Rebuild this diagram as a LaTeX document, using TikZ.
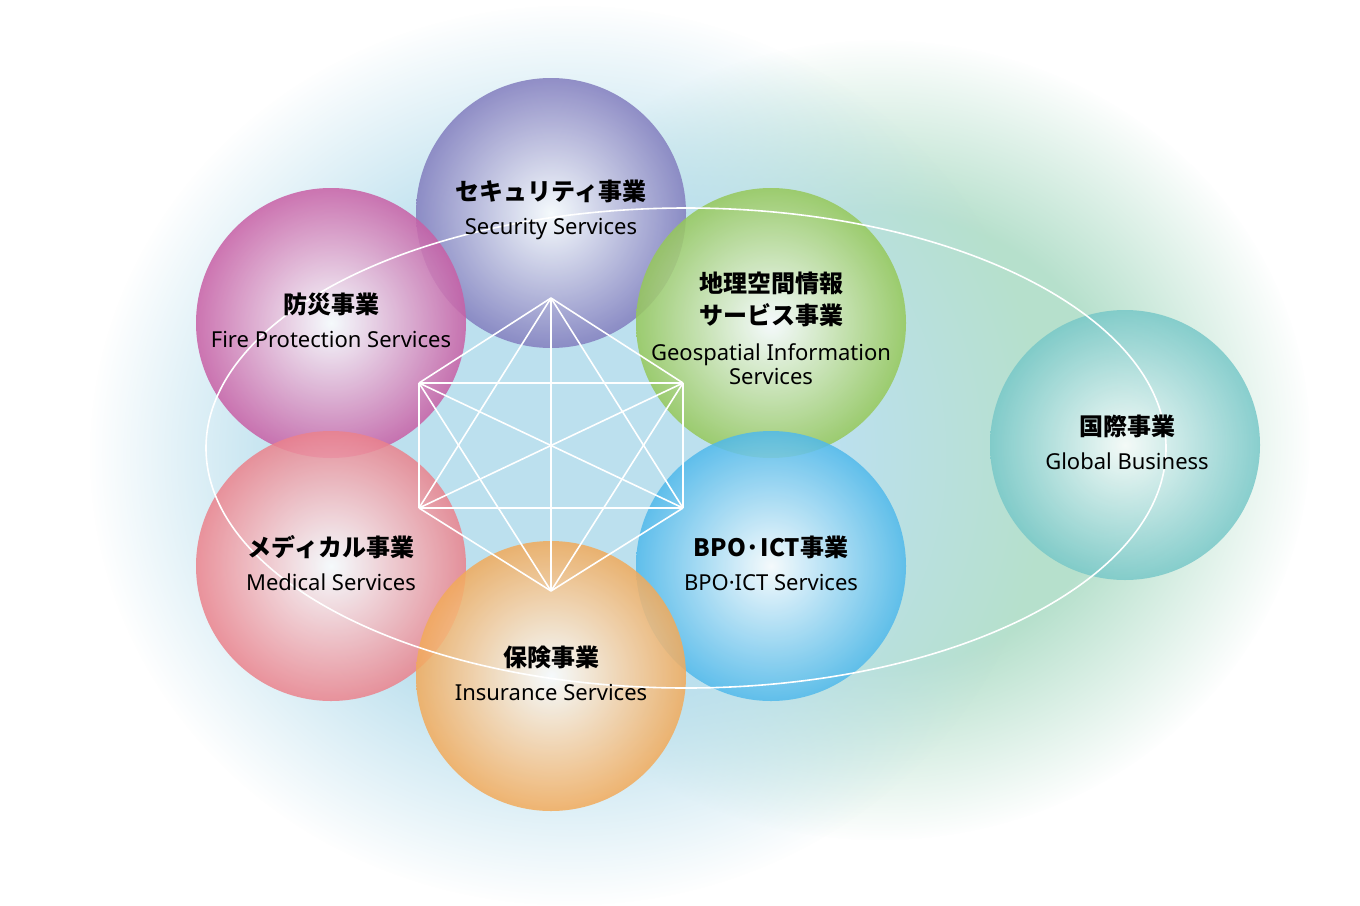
\documentclass[tikz,border=0pt]{standalone}
\usepackage{fontspec}
\usetikzlibrary{fadings}
\newfontfamily\jp{Noto Sans CJK JP}
\newfontfamily\en{Noto Sans}
\definecolor{sec}{RGB}{130,125,190}
\definecolor{fire}{RGB}{200,95,165}
\definecolor{geo}{RGB}{150,200,90}
\definecolor{med}{RGB}{235,130,140}
\definecolor{bpo}{RGB}{80,185,235}
\definecolor{ins}{RGB}{242,170,90}
\definecolor{glo}{RGB}{120,200,200}
\definecolor{bgb}{RGB}{188,224,238}
\definecolor{bgg}{RGB}{182,224,204}
\pgfdeclareradialshading{platsh}{\pgfpoint{0cm}{0cm}}{color(0bp)=(white); color(14bp)=(white); color(25bp)=(black); color(50bp)=(black)}
\pgfdeclarefading{platf}{\pgfuseshading{platsh}}
\newcommand{\J}{\jp\bfseries\fontsize{12}{17}\selectfont}
\newcommand{\E}{\en\mdseries\fontsize{11}{11.5}\selectfont}
\begin{document}
\begin{tikzpicture}[x=0.5pt,y=-0.5pt,
  ball/.style={fill opacity=0.85},
  lbl/.style={align=center,text opacity=1},
  wl/.style={white,line width=0.8pt}]
\useasboundingbox (0,0) rectangle (1360,905);
\fill[white] (0,0) rectangle (1360,905);
\fill[bgg,path fading=platf] (880,440) ellipse [x radius=430, y radius=400];
\fill[bgb,path fading=platf] (570,455) ellipse [x radius=480, y radius=450];
\foreach \n/\c/\x/\y in {sec/sec/551/213,fire/fire/331/323,geo/geo/771/323,med/med/331/566,bpo/bpo/771/566,ins/ins/551/676,glo/glo/1125/445}{
  \shade[ball,inner color=white,outer color=\c] (\x,\y) circle [radius=135];
}
\draw[wl] (686,448) ellipse [x radius=480, y radius=240];
\coordinate (t) at (551,298); \coordinate (ul) at (419,383); \coordinate (ur) at (683,383);
\coordinate (ll) at (419,508); \coordinate (lr) at (683,508); \coordinate (b) at (551,591);
\foreach \a/\bb in {t/ul,t/ur,t/ll,t/lr,t/b,ul/ur,ul/ll,ul/lr,ul/b,ur/ll,ur/lr,ur/b,ll/lr,ll/b,lr/b}{\draw[wl] (\a)--(\bb);}
\node[lbl] (nsec) at (551,210) {\J セキュリティ事業\\[5pt]\E Security Services};
\node[lbl] (nfire) at (331,320) {\J 防災事業\\[5pt]\E Fire Protection Services};
\node[lbl] (ngeo) at (771,328) {\J 地理空間情報\\[4pt]\J サービス事業\\[6pt]\E Geospatial Information\\\E Services};
\node[lbl] (nmed) at (331,563) {\J メディカル事業\\[5pt]\E Medical Services};
\node[lbl] (nbpo) at (771,563) {\J BPO·ICT事業\\[5pt]\E BPO·ICT Services};
\node[lbl] (nins) at (551,673) {\J 保険事業\\[5pt]\E Insurance Services};
\node[lbl] (nglo) at (1127,442) {\J 国際事業\\[5pt]\E Global Business};
\end{tikzpicture}
\end{document}
